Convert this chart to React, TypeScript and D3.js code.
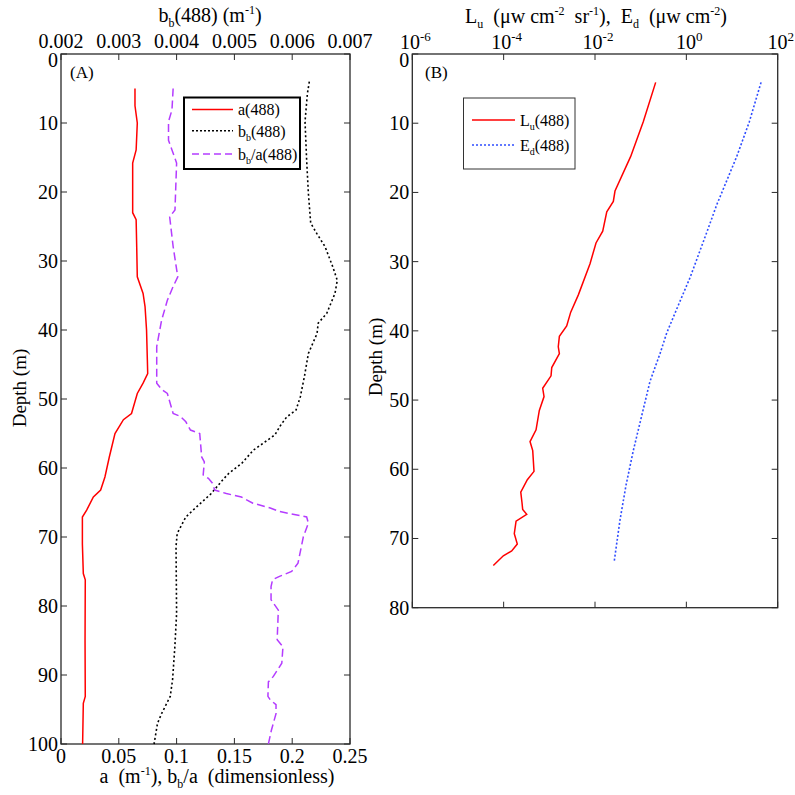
import React from "react";
import * as d3 from "d3";

// ---------- Data (panel A) ----------
const aDepth = [5, 7.5, 10, 13.9, 15.8, 19, 23, 24, 28, 32.3, 34.7, 36.6, 40, 44.3, 46.3, 47.7, 49.2, 52.1, 53, 55, 58.4, 61.3, 63.2, 64.2, 66.1, 67.1, 71, 75.3, 76.2, 85, 93.1, 94.1, 100];
const aValue = [0.064, 0.064, 0.066, 0.065, 0.062, 0.062, 0.062, 0.065, 0.0655, 0.066, 0.071, 0.0727, 0.074, 0.0747, 0.075, 0.071, 0.066, 0.061, 0.054, 0.0467, 0.0418, 0.038, 0.0343, 0.028, 0.0222, 0.0185, 0.0185, 0.0193, 0.021, 0.0208, 0.021, 0.0193, 0.0187];

const bbaDepth = [5, 8.1, 9.8, 12.5, 13.9, 15.8, 22.6, 23.6, 27.9, 32.3, 33.7, 35.7, 38.6, 42.4, 47.7, 48.6, 49.2, 52.1, 52.5, 53.3, 54.5, 55, 58.4, 59.1, 61, 61.5, 62.2, 63.2, 63.7, 64.2, 65.1, 65.8, 66.3, 67.1, 68, 70, 73.8, 75, 75.7, 76.2, 77.2, 79.1, 80.6, 84.9, 85.9, 88.3, 90.2, 91, 93.1, 93.6, 94.3, 95.6, 98, 100];
const bbaValue = [0.097, 0.096, 0.093, 0.093, 0.096, 0.1, 0.0986, 0.094, 0.097, 0.101, 0.097, 0.092, 0.087, 0.0828, 0.0828, 0.087, 0.092, 0.097, 0.103, 0.108, 0.112, 0.12, 0.1217, 0.124, 0.123, 0.1275, 0.131, 0.133, 0.143, 0.156, 0.166, 0.181, 0.189, 0.2125, 0.214, 0.2096, 0.205, 0.1995, 0.189, 0.183, 0.1817, 0.1817, 0.188, 0.187, 0.192, 0.191, 0.1837, 0.1794, 0.179, 0.181, 0.186, 0.186, 0.182, 0.1794];

const bbDepth = [4, 5.8, 9.8, 15.4, 20.2, 24.5, 26, 27.9, 30.8, 32.8, 34.7, 37.6, 39, 40.5, 43.4, 46.8, 49.7, 51.6, 52.6, 53.8, 55.2, 56.4, 57.4, 59.3, 60.8, 61.7, 63.7, 65.6, 67.1, 69.5, 71.4, 81.1, 85.9, 90.7, 93.1, 95.6, 97, 100];
const bbValue = [0.006296, 0.006262, 0.006222, 0.00625, 0.00628, 0.00632, 0.006424, 0.006567, 0.0067, 0.00678, 0.00674, 0.006597, 0.00645, 0.00643, 0.00628, 0.00621, 0.00614, 0.006066, 0.005905, 0.0058, 0.0057, 0.0055, 0.00533, 0.00513, 0.0049, 0.0048, 0.0046, 0.00435, 0.00416, 0.00401, 0.00399, 0.004, 0.00397, 0.00393, 0.00389, 0.00374, 0.00367, 0.00361];

// ---------- Data (panel B) ----------
const luDepth = [4.1, 9.8, 14.8, 19.8, 21.3, 22.8, 25.6, 27.3, 30.3, 34.8, 37.3, 39.3, 40.8, 42.3, 43.3, 45.3, 46.5, 48.3, 49.5, 51.5, 54.3, 56, 57.3, 60.3, 61.5, 63.3, 64.8, 65.8, 66.5, 67.5, 69.3, 70.8, 71.8, 72.5, 73.9];
const luValue = [0.213, 0.114, 0.0605, 0.0274, 0.0252, 0.0181, 0.01476, 0.01052, 0.00778, 0.00432, 0.00294, 0.0024, 0.00166, 0.00157, 0.00166, 0.00113, 0.00109, 0.000716, 0.000766, 0.000604, 0.000512, 0.000378, 0.000433, 0.000462, 0.00033, 0.000237, 0.000252, 0.000261, 0.00032, 0.000187, 0.000171, 0.000199, 0.00015, 0.0000984, 0.0000594];

const edDepth = [4.1, 9.8, 14.8, 18.3, 21.8, 25.8, 32.3, 36.3, 40.3, 43.3, 47.3, 52.3, 57.3, 62.3, 67.3, 73.5];
const edValue = [43.2, 23.9, 12.7, 7.66, 4.62, 2.79, 1.205, 0.667, 0.372, 0.265, 0.16, 0.105, 0.069, 0.0478, 0.0353, 0.0261];

// ---------- Ticks ----------
const depthTicksA = [0, 10, 20, 30, 40, 50, 60, 70, 80, 90, 100];
const depthTicksB = [0, 10, 20, 30, 40, 50, 60, 70, 80];
const aTicks = [0, 0.05, 0.1, 0.15, 0.2, 0.25];
const aTickLabels = ["0", "0.05", "0.1", "0.15", "0.2", "0.25"];
const bbTicks = [0.002, 0.003, 0.004, 0.005, 0.006, 0.007];
const bbTickLabels = ["0.002", "0.003", "0.004", "0.005", "0.006", "0.007"];
const logExponents = [-6, -4, -2, 0, 2];

const FONT = "'Liberation Serif', 'Times New Roman', serif";

const A = { left: 61, right: 350, top: 54, bottom: 744 };
const B = { left: 412.3, right: 777.7, top: 54, bottom: 607.7 };

export default function App() {
  const yA = d3.scaleLinear().domain([0, 100]).range([A.top, A.bottom]);
  const xA = d3.scaleLinear().domain([0, 0.25]).range([A.left, A.right]);
  const xBb = d3.scaleLinear().domain([0.002, 0.007]).range([A.left, A.right]);
  const yB = d3.scaleLinear().domain([0, 80]).range([B.top, B.bottom]);
  const xB = d3.scaleLog().domain([1e-6, 1e2]).range([B.left, B.right]);

  const mk = (xs: number[], ys: number[], xsc: any, ysc: any) =>
    d3.line<number>().x((_, i) => xsc(xs[i])).y((_, i) => ysc(ys[i]))(xs.map((_, i) => i)) || "";

  const aPath = mk(aValue, aDepth, xA, yA);
  const bbaPath = mk(bbaValue, bbaDepth, xA, yA);
  const bbPath = mk(bbValue, bbDepth, xBb, yA);
  const luPath = mk(luValue, luDepth, xB, yB);
  const edPath = mk(edValue, edDepth, xB, yB);

  const tk = 6;
  const frame = "#2a2a2a";
  const pre = { whiteSpace: "pre" as const };

  return (
    <svg width={795} height={795} style={{ position: "absolute", left: 0, top: 0, background: "#fff" }} fontFamily={FONT}>
      <rect x={0} y={0} width={795} height={795} fill="#fff" />
      {/* ---------- Panel A ---------- */}
      <g>
        {depthTicksA.map((d) => (
          <g key={"ya" + d}>
            <line x1={A.left} x2={A.left + tk} y1={yA(d)} y2={yA(d)} stroke={frame} />
            <line x1={A.right} x2={A.right - tk} y1={yA(d)} y2={yA(d)} stroke={frame} />
            <text x={A.left - 3} y={yA(d) + 7 + (d === 0 ? 6 : 0)} fontSize={20} textAnchor="end">{d}</text>
          </g>
        ))}
        {aTicks.map((v, i) => (
          <g key={"xa" + v}>
            <line x1={xA(v)} x2={xA(v)} y1={A.bottom} y2={A.bottom - tk} stroke={frame} />
            <text x={xA(v)} y={763} fontSize={20} textAnchor="middle">{aTickLabels[i]}</text>
          </g>
        ))}
        {bbTicks.map((v, i) => (
          <g key={"xb" + v}>
            <line x1={xBb(v)} x2={xBb(v)} y1={A.top} y2={A.top + tk} stroke={frame} />
            <text x={xBb(v)} y={48} fontSize={20} textAnchor="middle">{bbTickLabels[i]}</text>
          </g>
        ))}
        <rect x={A.left} y={A.top} width={A.right - A.left} height={A.bottom - A.top} fill="none" stroke={frame} strokeWidth={1.3} />
        <path d={aPath} fill="none" stroke="#ff0000" strokeWidth={1.5} />
        <path d={bbPath} fill="none" stroke="#000" strokeWidth={1.6} strokeDasharray="2,2.5" />
        <path d={bbaPath} fill="none" stroke="#b43cff" strokeWidth={1.5} strokeDasharray="8,4" />
        <text x={70} y={78} fontSize={17}>(A)</text>
        {/* legend A */}
        <rect x={184} y={97.5} width={116} height={71.5} fill="#fff" stroke="#000" strokeWidth={2} />
        <line x1={192} x2={233} y1={109.5} y2={109.5} stroke="#ff0000" strokeWidth={1.5} />
        <line x1={192} x2={233} y1={130.7} y2={130.7} stroke="#000" strokeWidth={1.5} strokeDasharray="2,2" />
        <line x1={192} x2={233} y1={154} y2={154} stroke="#b43cff" strokeWidth={1.5} strokeDasharray="7,4" />
        <text x={238} y={115} fontSize={16}>a(488)</text>
        <text x={238} y={136.5} fontSize={16}>
          b<tspan dy={4} fontSize={10}>b</tspan><tspan dy={-4}>(488)</tspan>
        </text>
        <text x={238} y={160} fontSize={16}>
          b<tspan dy={4} fontSize={10}>b</tspan><tspan dy={-4}>/a(488)</tspan>
        </text>
        {/* axis titles */}
        <text x={210} y={22} fontSize={20} textAnchor="middle" style={pre}>
          b<tspan dy={5} fontSize={12}>b</tspan><tspan dy={-5}>(488) (m</tspan><tspan dy={-8} fontSize={12}>-1</tspan><tspan dy={8}>)</tspan>
        </text>
        <text x={217} y={783} fontSize={20} textAnchor="middle" style={pre}>
          {"a  (m"}<tspan dy={-8} fontSize={12}>-1</tspan><tspan dy={8}>{"), b"}</tspan><tspan dy={5} fontSize={12}>b</tspan><tspan dy={-5}>{"/a  (dimensionless)"}</tspan>
        </text>
        <text transform="translate(26,388) rotate(-90)" fontSize={19} textAnchor="middle">Depth (m)</text>
      </g>

      {/* ---------- Panel B ---------- */}
      <g>
        {depthTicksB.map((d) => (
          <g key={"yb" + d}>
            <line x1={B.left} x2={B.left + tk} y1={yB(d)} y2={yB(d)} stroke={frame} />
            <line x1={B.right} x2={B.right - tk} y1={yB(d)} y2={yB(d)} stroke={frame} />
            <text x={B.left - 3} y={yB(d) + 7 + (d === 0 ? 6 : 0)} fontSize={20} textAnchor="end">{d}</text>
          </g>
        ))}
        {logExponents.map((e) => {
          const v = Math.pow(10, e);
          return (
            <g key={"lx" + e}>
              <line x1={xB(v)} x2={xB(v)} y1={B.top} y2={B.top + tk} stroke={frame} />
              <line x1={xB(v)} x2={xB(v)} y1={B.bottom} y2={B.bottom - tk} stroke={frame} />
              <text x={xB(v) + 3} y={49} fontSize={20} textAnchor="middle">
                10<tspan dy={-8} fontSize={13}>{e < 0 ? "-" + Math.abs(e) : String(e)}</tspan>
              </text>
            </g>
          );
        })}
        <rect x={B.left} y={B.top} width={B.right - B.left} height={B.bottom - B.top} fill="none" stroke={frame} strokeWidth={1.3} />
        <path d={luPath} fill="none" stroke="#ff0000" strokeWidth={1.5} />
        <path d={edPath} fill="none" stroke="#2f4dff" strokeWidth={1.6} strokeDasharray="2,2" />
        <text x={425} y={78} fontSize={17}>(B)</text>
        {/* legend B */}
        <rect x={463.5} y={98} width={111.5} height={71} fill="#fff" stroke="#333" strokeWidth={1} />
        <line x1={472} x2={515} y1={120} y2={120} stroke="#ff0000" strokeWidth={1.5} />
        <line x1={472} x2={515} y1={145} y2={145} stroke="#2f4dff" strokeWidth={1.5} strokeDasharray="2,2" />
        <text x={520} y={126} fontSize={16}>
          L<tspan dy={4} fontSize={10}>u</tspan><tspan dy={-4}>(488)</tspan>
        </text>
        <text x={520} y={151} fontSize={16}>
          E<tspan dy={4} fontSize={10}>d</tspan><tspan dy={-4}>(488)</tspan>
        </text>
        <text x={596} y={23} fontSize={20} textAnchor="middle" style={pre}>
          L<tspan dy={5} fontSize={12}>u</tspan><tspan dy={-5}>{"  (μw cm"}</tspan><tspan dy={-8} fontSize={12}>-2</tspan><tspan dy={8}>{"  sr"}</tspan><tspan dy={-8} fontSize={12}>-1</tspan><tspan dy={8}>{"),  E"}</tspan><tspan dy={5} fontSize={12}>d</tspan><tspan dy={-5}>{"  (μw cm"}</tspan><tspan dy={-8} fontSize={12}>-2</tspan><tspan dy={8}>)</tspan>
        </text>
        <text transform="translate(382,357) rotate(-90)" fontSize={19} textAnchor="middle">Depth (m)</text>
      </g>
    </svg>
  );
}
